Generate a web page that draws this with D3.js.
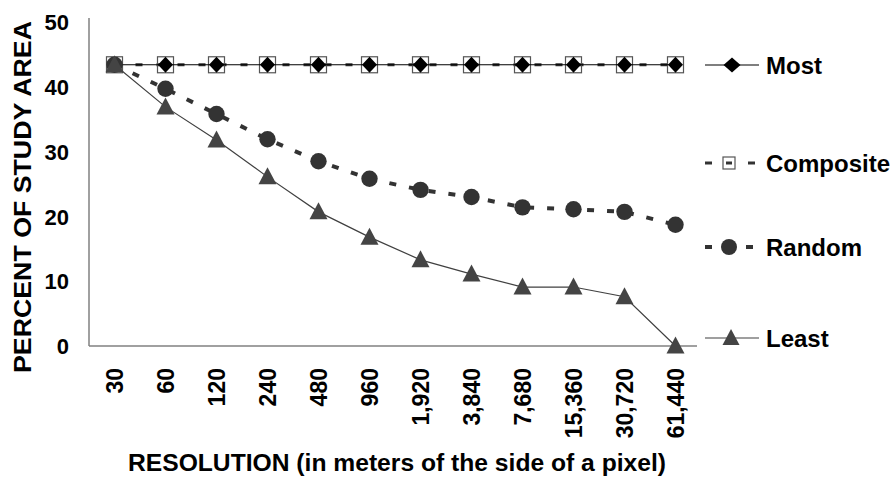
<!DOCTYPE html>
<html><head><meta charset="utf-8">
<script src="https://cdn.jsdelivr.net/npm/d3@7"></script>
<style>
body{margin:0;background:#fff;}
text{font-family:"Liberation Sans",Arial,sans-serif;font-weight:bold;fill:#000;}
</style></head>
<body><svg id="c" width="893" height="479"></svg>
<script>
const categories = ["30","60","120","240","480","960","1,920","3,840","7,680","15,360","30,720","61,440"];
const most      = [43.4,43.4,43.4,43.4,43.4,43.4,43.4,43.4,43.4,43.4,43.4,43.4];
const composite = [43.4,43.4,43.4,43.4,43.4,43.4,43.4,43.4,43.4,43.4,43.4,43.4];
const random    = [43.4,39.7,35.8,31.9,28.5,25.8,24.1,23.0,21.4,21.1,20.7,18.7];
const least     = [43.4,36.9,31.8,26.1,20.7,16.8,13.3,11.1,9.1,9.1,7.6,0];
const yTicks = [0,10,20,30,40,50];
const seriesNames = ["Most","Composite","Random","Least"];

const svg = d3.select("#c");
const x = d3.scaleBand().domain(categories).range([89,701]).padding(0);
const y = d3.scaleLinear().domain([0,50]).range([346,22]);
const cx = d => x(d) + x.bandwidth()/2;

// axes lines
svg.append("line").attr("x1",89).attr("x2",89).attr("y1",18).attr("y2",346)
  .attr("stroke","#808080").attr("stroke-width",1.5);
svg.append("line").attr("x1",89).attr("x2",697).attr("y1",346).attr("y2",346)
  .attr("stroke","#808080").attr("stroke-width",1.5);

// y axis labels
const ya = svg.append("g").attr("transform","translate(89,0)")
  .call(d3.axisLeft(y).tickValues(yTicks).tickSize(0).tickPadding(20));
ya.select(".domain").remove();
ya.selectAll("text").style("font-size","22px").style("font-family","Liberation Sans, Arial, sans-serif").style("font-weight","bold").attr("fill","#000").attr("dy","0.35em");

// x axis labels
const xa = svg.append("g").attr("transform","translate(0,346)")
  .call(d3.axisBottom(x).tickSize(0));
xa.select(".domain").remove();
xa.selectAll("text").style("font-size","23px").style("font-family","Liberation Sans, Arial, sans-serif").style("font-weight","bold").attr("fill","#000")
  .attr("transform","rotate(-90)").attr("text-anchor","end")
  .attr("x",-22).attr("y",0).attr("dy","0.36em");

// titles
svg.append("text").attr("transform","translate(31,197) rotate(-90)").attr("text-anchor","middle")
  .style("font-size","23px").attr("textLength",352).attr("lengthAdjust","spacingAndGlyphs")
  .text("PERCENT OF STUDY AREA");
svg.append("text").attr("x",397).attr("y",471).attr("text-anchor","middle")
  .style("font-size","23px").attr("textLength",538).attr("lengthAdjust","spacingAndGlyphs")
  .text("RESOLUTION (in meters of the side of a pixel)");

const line = d3.line().x((d,i)=>cx(categories[i])).y(d=>y(d));

// Composite
svg.append("path").datum(composite).attr("d",line).attr("fill","none")
  .attr("stroke","#333").attr("stroke-width",3).attr("stroke-dasharray","7,14");
svg.selectAll(".sq").data(composite).enter().append("rect")
  .attr("x",(d,i)=>cx(categories[i])-8).attr("y",d=>y(d)-8).attr("width",16).attr("height",16)
  .attr("fill","none").attr("stroke","#555").attr("stroke-width",1.2);

// Most
svg.append("path").datum(most).attr("d",line).attr("fill","none")
  .attr("stroke","#000").attr("stroke-width",1.2);
svg.selectAll(".dm").data(most).enter().append("path")
  .attr("d","M0,-8L7.5,0L0,8L-7.5,0Z")
  .attr("transform",(d,i)=>`translate(${cx(categories[i])},${y(d)})`).attr("fill","#000");

// Random
svg.append("path").datum(random).attr("d",line).attr("fill","none")
  .attr("stroke","#333").attr("stroke-width",4).attr("stroke-dasharray","7,13");
svg.selectAll(".ci").data(random).enter().append("circle")
  .attr("cx",(d,i)=>cx(categories[i])).attr("cy",d=>y(d)).attr("r",8.2).attr("fill","#333");

// Least
svg.append("path").datum(least).attr("d",line).attr("fill","none")
  .attr("stroke","#404040").attr("stroke-width",1.2);
svg.selectAll(".tr").data(least).enter().append("path")
  .attr("d","M0,-9.5L9,7.5L-9,7.5Z")
  .attr("transform",(d,i)=>`translate(${cx(categories[i])},${y(d)})`).attr("fill","#444");

// Legend
const legY = [65,163,247,338];
const lg = svg.append("g");
seriesNames.forEach((name,k)=>{
  const yy = legY[k];
  const g = lg.append("g").attr("transform",`translate(0,${yy})`);
  if(name==="Most"){
    g.append("line").attr("x1",705).attr("x2",759).attr("stroke","#000").attr("stroke-width",1.2);
    g.append("path").attr("d","M0,-7.5L8.5,0L0,7.5L-8.5,0Z").attr("transform","translate(732,0)").attr("fill","#000");
  } else if(name==="Composite"){
    [[705,712],[726,732],[748,755]].forEach(s=>g.append("line").attr("x1",s[0]).attr("x2",s[1]).attr("stroke","#333").attr("stroke-width",3));
    g.append("rect").attr("x",723).attr("y",-6).attr("width",12).attr("height",12).attr("fill","none").attr("stroke","#555").attr("stroke-width",1.2);
  } else if(name==="Random"){
    [[705,712],[746,753]].forEach(s=>g.append("line").attr("x1",s[0]).attr("x2",s[1]).attr("stroke","#333").attr("stroke-width",4));
    g.append("circle").attr("cx",729).attr("cy",0).attr("r",8).attr("fill","#333");
  } else {
    g.append("line").attr("x1",705).attr("x2",759).attr("stroke","#404040").attr("stroke-width",1.2);
    g.append("path").attr("d","M0,-9L8.5,7L-8.5,7Z").attr("transform","translate(731,0)").attr("fill","#444");
  }
  g.append("text").attr("x",766).attr("y",0).attr("dy","0.36em").style("font-size","24px").text(name);
});
</script></body></html>
